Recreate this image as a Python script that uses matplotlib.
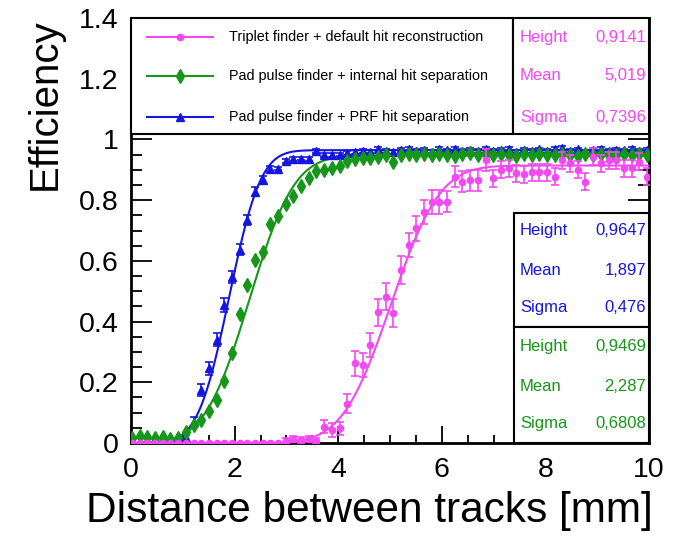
import math
import numpy as np
from matplotlib import pyplot as plt
from matplotlib.patches import Rectangle
from matplotlib.ticker import MultipleLocator, FuncFormatter

plt.rcParams['font.family'] = ['Liberation Sans', 'DejaVu Sans']

# bin positions (68 points across 0..10 mm)
dist = np.linspace(0.02, 9.96, 68)

# Triplet finder + default hit reconstruction (magenta)
eff_triplet = [0.0]*20 + [
    0.008, 0.012, 0.010, 0.012, 0.008, 0.054, 0.043, 0.048, 0.130, 0.262,
    0.257, 0.323, 0.430, 0.482, 0.428, 0.570, 0.652, 0.707, 0.760, 0.795,
    0.795, 0.795, 0.877, 0.861, 0.866, 0.866, 0.932, 0.872, 0.900, 0.905,
    0.888, 0.885, 0.892, 0.892, 0.892, 0.877, 0.932, 0.921, 0.900, 0.861,
    0.943, 0.921, 0.932, 0.932, 0.905, 0.905, 0.927, 0.877]
err_triplet = [0.0]*20 + [0.01]*5 + [0.022]*3 + [0.03] + [0.04]*3 + [0.045]*4 \
    + [0.04]*5 + [0.035]*6 + [0.028]*21

# Pad pulse finder + internal hit separation (green)
eff_internal = [
    0.018, 0.022, 0.020, 0.016, 0.020, 0.012, 0.015, 0.037, 0.059, 0.076,
    0.105, 0.142, 0.205, 0.295, 0.424, 0.520, 0.603, 0.628, 0.720, 0.748,
    0.788, 0.814, 0.846, 0.874, 0.897, 0.901, 0.906, 0.912, 0.928, 0.934,
    0.938, 0.939, 0.942, 0.948, 0.926, 0.950, 0.951, 0.948, 0.952, 0.949,
    0.953, 0.950, 0.947, 0.952, 0.955, 0.949, 0.951, 0.948, 0.953, 0.950,
    0.946, 0.951, 0.949, 0.953, 0.950, 0.948, 0.952, 0.950, 0.947, 0.951,
    0.949, 0.953, 0.950, 0.948, 0.952, 0.949, 0.951, 0.948]
err_internal = [0.004]*68

# Pad pulse finder + PRF hit separation (blue)
eff_prf = [
    0.000, 0.000, 0.003, 0.000, 0.000, 0.002, 0.004, 0.015, 0.070, 0.175,
    0.246, 0.340, 0.455, 0.548, 0.636, 0.735, 0.828, 0.866, 0.902, 0.904,
    0.930, 0.935, 0.937, 0.936, 0.962, 0.949, 0.948, 0.950, 0.955, 0.958,
    0.963, 0.960, 0.970, 0.962, 0.958, 0.965, 0.968, 0.962, 0.966, 0.960,
    0.970, 0.964, 0.968, 0.961, 0.966, 0.963, 0.970, 0.962, 0.965, 0.968,
    0.960, 0.966, 0.963, 0.967, 0.961, 0.969, 0.972, 0.963, 0.967, 0.960,
    0.965, 0.968, 0.962, 0.966, 0.964, 0.969, 0.962, 0.966]
err_prf = [0.0]*7 + [0.01, 0.015, 0.02, 0.022, 0.022, 0.022, 0.02, 0.018,
                     0.016, 0.014, 0.012, 0.01] + [0.006]*49

# fit results (Height, Mean, Sigma) as printed on the plot
fit_triplet = (0.9141, 5.019, 0.7396)
fit_prf = (0.9647, 1.897, 0.476)
fit_internal = (0.9469, 2.287, 0.6808)
fit_labels = [('Height', '0,9141'), ('Mean', '5,019'), ('Sigma', '0,7396')]
prf_labels = [('Height', '0,9647'), ('Mean', '1,897'), ('Sigma', '0,476')]
int_labels = [('Height', '0,9469'), ('Mean', '2,287'), ('Sigma', '0,6808')]

legend_names = ['Triplet finder + default hit reconstruction',
                'Pad pulse finder + internal hit separation',
                'Pad pulse finder + PRF hit separation']

MAG = '#f448f4'
GRN = '#16961a'
BLU = '#1515e0'

erf = np.vectorize(math.erf)
def sfit(x, h, m, s):
  return h * 0.5 * (1 + erf((x - m) / (s * math.sqrt(2))))

fig = plt.figure(figsize=(6.87, 5.40), dpi=100)
ax = fig.add_axes([0.1907, 0.1796, 0.7540, 0.7870])

xf = np.linspace(0, 10, 500)

# blue
ax.plot(xf, sfit(xf, *fit_prf), color=BLU, lw=1.5, zorder=3)
ax.errorbar(dist, eff_prf, yerr=err_prf, fmt='^', color=BLU, ms=6,
            elinewidth=1.2, capsize=3, capthick=1.2, zorder=4)
# green
ax.plot(xf, sfit(xf, *fit_internal), color=GRN, lw=1.5, zorder=3)
ax.errorbar(dist, eff_internal, yerr=err_internal, fmt='d', color=GRN, ms=7.5,
            elinewidth=1.0, capsize=0, zorder=5)
# magenta
ax.plot(xf, sfit(xf, *fit_triplet), color=MAG, lw=1.5, zorder=3)
ax.errorbar(dist, eff_triplet, yerr=err_triplet, fmt='o', color=MAG, ms=4.5,
            elinewidth=1.2, capsize=3, capthick=1.2, zorder=6)

ax.set_xlim(0, 10)
ax.set_ylim(0, 1.4)
ax.xaxis.set_major_locator(MultipleLocator(2))
ax.xaxis.set_minor_locator(MultipleLocator(0.5))
ax.yaxis.set_major_locator(MultipleLocator(0.2))
ax.yaxis.set_minor_locator(MultipleLocator(0.05))
ax.xaxis.set_major_formatter(FuncFormatter(lambda v, p: '%g' % round(v, 2)))
ax.yaxis.set_major_formatter(FuncFormatter(lambda v, p: '%g' % round(v, 2)))
ax.tick_params(which='both', direction='in', top=True, right=True, width=1.3,
               labelsize=20.5)
ax.tick_params(axis='y', which='major', length=15, pad=9)
ax.tick_params(axis='y', which='minor', length=8)
ax.tick_params(axis='x', which='major', length=12, pad=10)
ax.tick_params(axis='x', which='minor', length=6)
for sp in ax.spines.values():
  sp.set_linewidth(2)

ax.set_ylabel('Efficiency', fontsize=29, loc='top')
ax.yaxis.set_label_coords(-0.13, 1.0)
ax.set_xlabel('Distance between tracks [mm]', fontsize=30.5, loc='right')
ax.xaxis.set_label_coords(1.008, -0.112)

# boxes
def box(x0, y0, w, h):
  ax.add_patch(Rectangle((x0, y0), w, h, transform=ax.transAxes, facecolor='white',
                         edgecolor='black', lw=1.5, zorder=10, clip_on=False))

box(0.0, 0.727, 0.738, 0.273)
box(0.738, 0.727, 0.262, 0.273)
box(0.740, 0.273, 0.260, 0.268)
box(0.740, 0.0, 0.260, 0.273)

rows_top = [0.955, 0.864, 0.767]
rows_blue = [0.499, 0.407, 0.318]
rows_green = [0.226, 0.134, 0.045]

colors = [MAG, GRN, BLU]
markers = ['o', 'd', '^']
msizes = [4.5, 7.5, 6]
for name, c, m, ms, y in zip(legend_names, colors, markers, msizes, rows_top):
  ax.plot([0.031, 0.158], [y, y], color=c, lw=1.5, transform=ax.transAxes,
          zorder=12, clip_on=False)
  ax.plot([0.095], [y], marker=m, color=c, ms=ms, transform=ax.transAxes,
          zorder=12, clip_on=False)
  ax.text(0.189, y, name, fontsize=10.4, va='center', ha='left',
          transform=ax.transAxes, zorder=12)

for labels, rows, c in [(fit_labels, rows_top, MAG), (prf_labels, rows_blue, BLU),
                        (int_labels, rows_green, GRN)]:
  for (lab, val), y in zip(labels, rows):
    ax.text(0.751, y, lab, color=c, fontsize=12, va='center', ha='left',
            transform=ax.transAxes, zorder=12)
    ax.text(0.994, y, val, color=c, fontsize=12, va='center', ha='right',
            transform=ax.transAxes, zorder=12)

plt.savefig('out.png', dpi=100)
